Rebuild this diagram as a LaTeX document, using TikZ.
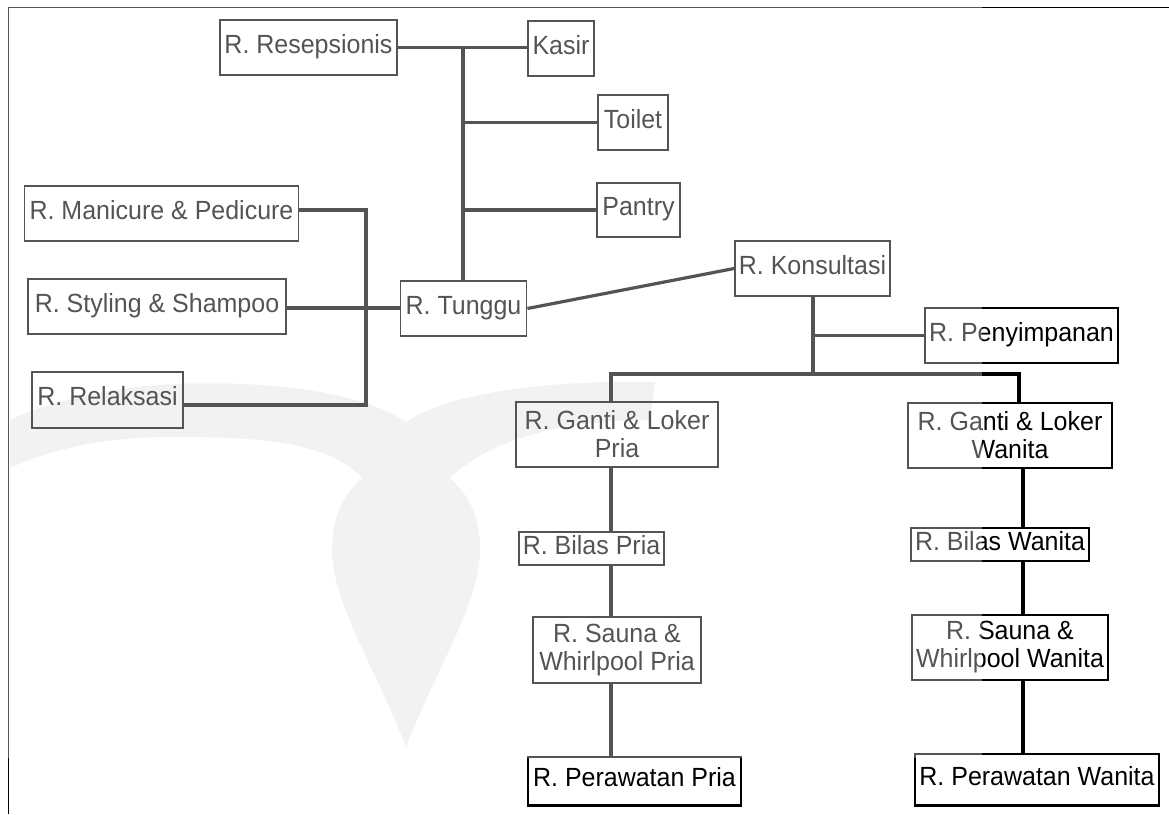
\documentclass[tikz,border=0pt]{standalone}
\usepackage{fontspec}
\setmainfont[FakeStretch=0.95]{Liberation Sans}
\begin{document}
\begin{tikzpicture}[x=1pt,y=-1pt,
  room/.style={draw=black, line width=1.8pt, inner sep=0pt,
    font=\fontsize{26.3}{28}\selectfont, text=black},
  oneline/.style={room, text height=19pt, text depth=8pt},
  twoline/.style={room, align=center},
  link/.style={draw=black, line width=3.2pt},
  mark shape/.style={fill=black!7, draw=none},
]
\useasboundingbox (0,0) rectangle (1169,814);

% faint emblem in the background
\fill[mark shape] (406,747) .. controls (440,660) and (482,600) .. (480,545)
  .. controls (478,505) and (462,490) .. (450,478)
  .. controls (490,440) and (560,420) .. (650,420)
  -- (655,382)
  .. controls (550,380) and (450,392) .. (406,422)
  .. controls (362,392) and (272,380) .. (172,384)
  .. controls (100,388) and (40,405) .. (10,420)
  -- (10,468)
  .. controls (60,445) and (120,436) .. (180,437)
  .. controls (272,437) and (332,445) .. (362,478)
  .. controls (350,490) and (334,505) .. (332,545)
  .. controls (330,600) and (372,660) .. (406,747) -- cycle;

% outer frame
\draw[line width=1.8pt] (8.5,814) -- (8.5,7.5) -- (1169,7.5);

% rooms
\node[oneline, minimum width=177pt, minimum height=55pt] (resep) at (308.5,47.5) {R. Resepsionis};
\node[oneline, minimum width=66pt, minimum height=55pt] (kasir) at (561,48.5) {Kasir};
\node[oneline, minimum width=70pt, minimum height=55pt] (toilet) at (633,122.5) {Toilet};
\node[oneline, minimum width=83pt, minimum height=54pt] (pantry) at (638.5,210) {Pantry};
\node[oneline, minimum width=274pt, minimum height=55pt] (mani) at (161.5,213.5) {R. Manicure \& Pedicure};
\node[oneline, minimum width=258pt, minimum height=55pt] (styl) at (157,306.5) {R. Styling \& Shampoo};
\node[oneline, minimum width=151pt, minimum height=56pt] (relax) at (107.5,400) {R. Relaksasi};
\node[oneline, minimum width=126pt, minimum height=55pt] (tung) at (463.5,308.5) {R. Tunggu};
\node[oneline, minimum width=155pt, minimum height=55pt] (kons) at (812.5,268.5) {R. Konsultasi};
\node[oneline, minimum width=193pt, minimum height=55pt] (peny) at (1021.5,335.5) {R. Penyimpanan};
\node[twoline, minimum width=202pt, minimum height=65pt] (gp) at (617,434.5) {R. Ganti \& Loker\\Pria};
\node[twoline, minimum width=204pt, minimum height=65pt] (gw) at (1010,435.5) {R. Ganti \& Loker\\Wanita};
\node[oneline, minimum width=145pt, minimum height=33pt] (bp) at (591.5,548.5) {R. Bilas Pria};
\node[oneline, minimum width=178pt, minimum height=33pt] (bw) at (1000,544.5) {R. Bilas Wanita};
\node[twoline, minimum width=168pt, minimum height=66pt] (sp) at (617,650) {R. Sauna \&\\Whirlpool Pria};
\node[twoline, minimum width=196pt, minimum height=65pt] (sw) at (1010,647.5) {R. Sauna \&\\Whirlpool Wanita};
\node[oneline, minimum width=213pt, minimum height=48pt] (pp) at (634.5,781) {R. Perawatan Pria};
\node[oneline, minimum width=244pt, minimum height=51pt] (pw) at (1037,779.5) {R. Perawatan Wanita};
\draw[line width=2.8pt] (pp.south west) -- (pp.south east);
\draw[line width=2.8pt] (pw.south west) -- (pw.south east);

% junction points
\coordinate (trunk) at (463,47.5);
\coordinate (mj) at (366,210);
\coordinate (rj) at (366,405);
\coordinate (sj) at (366,308);
\coordinate (bar) at (813,374);
\coordinate (bl) at (611,374);
\coordinate (br) at (1019,374);
\coordinate (wc) at (1023,374);

% reception wing
\draw[link] (resep.east) -- (kasir.west |- resep.east);
\draw[link] (trunk) -- (tung.north -| trunk);
\draw[link] (trunk |- toilet.west) -- (toilet.west);
\draw[link] (trunk |- pantry.west) -- (pantry.west);

% treatment rooms on the left
\draw[link] (mani.east |- mj) -- (mj) -- (rj) -- (relax.east |- rj);
\draw[link] (styl.east |- sj) -- (tung.west |- sj);

% waiting room to consultation
\draw[link] (tung.east) -- (kons.west);
\draw[link] (kons.south -| bar) -- (bar);
\draw[link] (bar |- peny.west) -- (peny.west);
\draw[link] (bl |- gp.north) -- (bl) -- (br) -- (br |- gw.north);

% men's sequence
\draw[link] (bl |- gp.south) -- (bl |- bp.north);
\draw[link] (bl |- bp.south) -- (bl |- sp.north);
\draw[link] (bl |- sp.south) -- (bl |- pp.north);

% women's sequence
\draw[link] (wc |- gw.south) -- (wc |- bw.north);
\draw[link] (wc |- bw.south) -- (wc |- sw.north);
\draw[link] (wc |- sw.south) -- (wc |- pw.north);

% pale veil over the upper left part
\fill[white, opacity=0.33] (0,0) rectangle (982,758);
\end{tikzpicture}
\end{document}
